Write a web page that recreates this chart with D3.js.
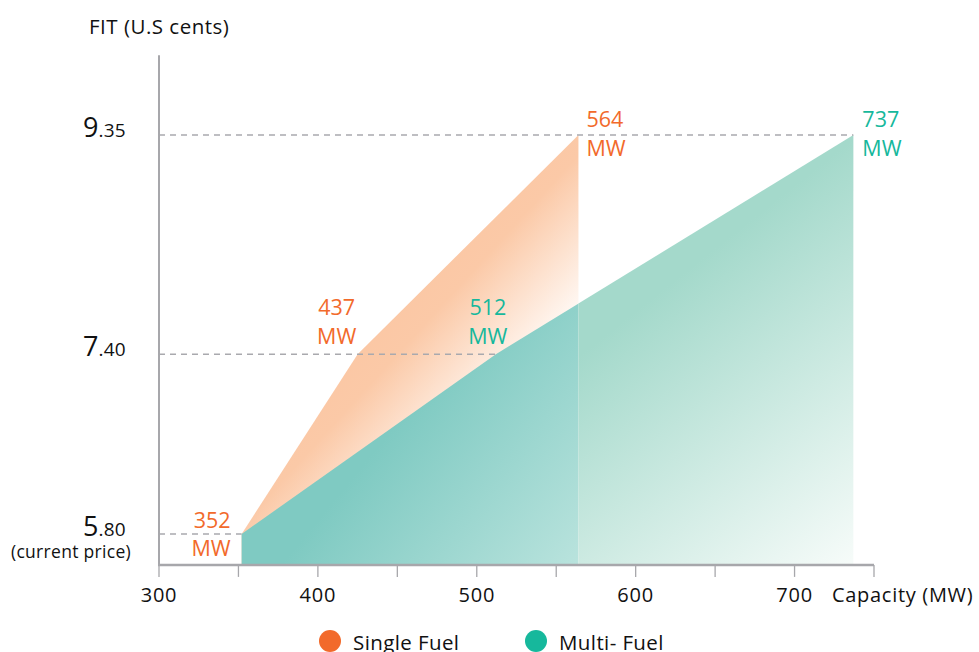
<!DOCTYPE html>
<html>
<head>
<meta charset="utf-8">
<script src="https://cdn.jsdelivr.net/npm/d3@7"></script>
<style>
  body { margin: 0; background: #fff; }
  svg { display: block; font-family: "Open Sans", "Noto Sans", sans-serif; }
</style>
</head>
<body>
<svg id="chart" width="979" height="652"></svg>
<script>
// ---- data ----
const xTicks = [300, 400, 500, 600, 700];
const xMinorTicks = [350, 450, 550, 650, 750];
const yTicks = [5.80, 7.40, 9.35];
const yTickMajor = ["5", "7", "9"];
const yTickMinor = [".80", ".40", ".35"];
const singleFuel = [ {cap: 352, fit: 5.80}, {cap: 425, fit: 7.40}, {cap: 564, fit: 9.35} ];
const multiFuel  = [ {cap: 352, fit: 5.80}, {cap: 512, fit: 7.40}, {cap: 737, fit: 9.35} ];
const singleLabels = [ {cap: 352, fit: 5.80, text: "352"}, {cap: 437, fit: 7.40, text: "437"}, {cap: 564, fit: 9.35, text: "564"} ];
const multiLabels  = [ {cap: 512, fit: 7.40, text: "512"}, {cap: 737, fit: 9.35, text: "737"} ];
const seriesNames = ["Single Fuel", "Multi- Fuel"];
const seriesColors = ["#f26a2b", "#16b89c"];

// ---- scales ----
const svg = d3.select("#chart");
const x = d3.scaleLinear().domain([300, 750]).range([159, 874]);
const y = d3.scaleLinear().domain([5.80, 9.35]).range([534, 135]);
const yBase = 5.525, yTop = 10.06;
const base = y(yBase);

const defs = svg.append("defs");
function grad(id, p1, p2, stops) {
  const g = defs.append("linearGradient").attr("id", id)
    .attr("gradientUnits", "userSpaceOnUse")
    .attr("x1", p1[0]).attr("y1", p1[1]).attr("x2", p2[0]).attr("y2", p2[1]);
  stops.forEach(s => g.append("stop").attr("offset", s[0]).attr("stop-color", s[1]));
}
grad("gOrange", [450, 230], [560, 330], [[0, "#fbc7a4"], [0.3, "#fbc9a7"], [1, "#fff9f5"]]);
grad("gTealL", [400, 420], [577, 565], [[0, "#7fcac2"], [1, "#b9e3dd"]]);
grad("gTealR", [650, 300], [860, 565], [[0, "#a4d9cb"], [1, "#f8fcfa"]]);

const splitX = x(singleFuel[singleFuel.length - 1].cap);
defs.append("clipPath").attr("id", "clipL").append("rect")
  .attr("x", 0).attr("y", 0).attr("width", splitX).attr("height", 652);
defs.append("clipPath").attr("id", "clipR").append("rect")
  .attr("x", splitX).attr("y", 0).attr("width", 979 - splitX).attr("height", 652);

const area = d3.area().x(d => x(d.cap)).y0(base).y1(d => y(d.fit));

// orange area
svg.append("path").datum(singleFuel).attr("d", area).attr("fill", "url(#gOrange)");
// teal area, two tones
svg.append("path").datum(multiFuel).attr("d", area).attr("fill", "url(#gTealL)").attr("clip-path", "url(#clipL)");
svg.append("path").datum(multiFuel).attr("d", area).attr("fill", "url(#gTealR)").attr("clip-path", "url(#clipR)");

// dashed guide lines
const guides = [
  {fit: 5.80, cap: multiFuel[0].cap},
  {fit: 7.40, cap: multiFuel[1].cap},
  {fit: 9.35, cap: multiFuel[2].cap}
];
svg.selectAll(".guide").data(guides).join("line")
  .attr("x1", x(300)).attr("x2", d => x(d.cap))
  .attr("y1", d => y(d.fit)).attr("y2", d => y(d.fit))
  .attr("stroke", "#a9a9ae").attr("stroke-width", 1.5).attr("stroke-dasharray", "6,5");

// axes
const axisColor = "#a7a7ab";
svg.append("line").attr("x1", x(300)).attr("x2", x(300)).attr("y1", y(yTop)).attr("y2", base + 1)
  .attr("stroke", axisColor).attr("stroke-width", 2);
svg.append("line").attr("x1", x(300) - 1).attr("x2", x(750)).attr("y1", base).attr("y2", base)
  .attr("stroke", axisColor).attr("stroke-width", 2.5);
svg.selectAll(".tick").data(xTicks.concat(xMinorTicks)).join("line")
  .attr("x1", d => x(d)).attr("x2", d => x(d))
  .attr("y1", base).attr("y2", base + 12)
  .attr("stroke", axisColor).attr("stroke-width", 1.3);

svg.selectAll(".xl").data(xTicks).join("text")
  .attr("x", d => x(d)).attr("y", 602)
  .attr("text-anchor", "middle").attr("font-size", 20).attr("fill", "#111")
  .attr("letter-spacing", 0.8)
  .text(d => d);
svg.append("text").attr("x", 832).attr("y", 602).attr("font-size", 20).attr("fill", "#111")
  .attr("letter-spacing", 0.7)
  .text("Capacity (MW)");

// y tick labels
yTicks.forEach((v, i) => {
  const t = svg.append("text").attr("x", 126).attr("y", y(v) + 1.5)
    .attr("text-anchor", "end").attr("fill", "#111");
  t.append("tspan").attr("font-size", 27).text(yTickMajor[i]);
  t.append("tspan").attr("font-size", 19).attr("letter-spacing", 0.3).text(yTickMinor[i]);
});
svg.append("text").attr("x", 131).attr("y", 558).attr("text-anchor", "end")
  .attr("font-size", 17.5).attr("fill", "#111").attr("letter-spacing", 0.3).text("(current price)");

svg.append("text").attr("x", 89).attr("y", 34).attr("font-size", 20.5).attr("fill", "#111")
  .attr("letter-spacing", 0.5)
  .text("FIT (U.S cents)");

// value labels
function valueLabels(data, color, anchorFn, dxFn) {
  data.forEach(d => {
    const g = svg.append("g").attr("fill", color).attr("font-size", 21.5)
      .attr("text-anchor", anchorFn(d));
    const px = x(d.cap) + dxFn(d);
    g.append("text").attr("x", px).attr("y", y(d.fit) + d.oy1).text(d.text);
    g.append("text").attr("x", px).attr("y", y(d.fit) + d.oy2).text("MW");
  });
}
singleLabels[0].oy1 = -6; singleLabels[0].oy2 = 22;
singleLabels[1].oy1 = -39; singleLabels[1].oy2 = -10;
singleLabels[2].oy1 = -8; singleLabels[2].oy2 = 21;
multiLabels[0].oy1 = -39; multiLabels[0].oy2 = -10;
multiLabels[1].oy1 = -8; multiLabels[1].oy2 = 21;
valueLabels(singleLabels, seriesColors[0],
  (d, i) => d.cap === 352 ? "end" : (d.cap === 564 ? "start" : "middle"),
  d => d.cap === 352 ? -11 : (d.cap === 564 ? 8 : -40));
valueLabels(multiLabels, seriesColors[1],
  d => d.cap === 737 ? "start" : "middle",
  d => d.cap === 737 ? 9 : -8);

// legend
const legendX = [330, 536];
seriesNames.forEach((name, i) => {
  svg.append("circle").attr("cx", legendX[i]).attr("cy", 641).attr("r", 11).attr("fill", seriesColors[i]);
  svg.append("text").attr("x", legendX[i] + 23).attr("y", 650).attr("font-size", 20.5)
    .attr("fill", "#111").attr("letter-spacing", 0.4).text(name);
});
</script>
</body>
</html>
